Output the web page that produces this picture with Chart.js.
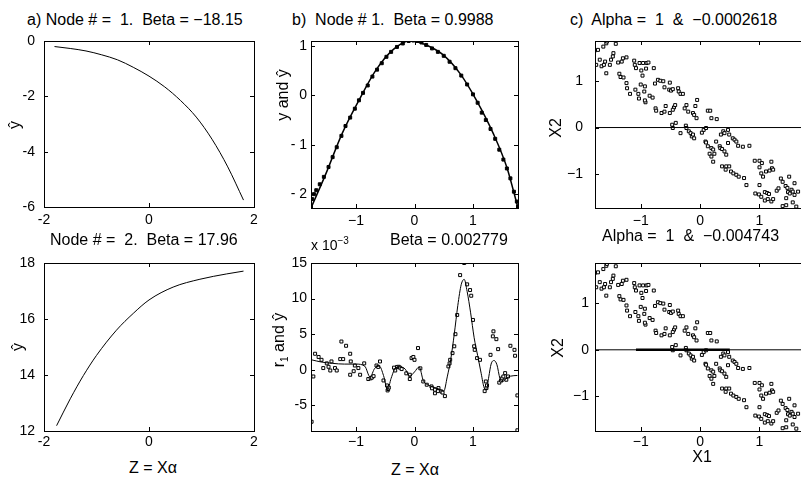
<!DOCTYPE html>
<html>
<head>
<meta charset="utf-8">
<script src="https://cdn.jsdelivr.net/npm/chart.js@4.4.0/dist/chart.umd.min.js"></script>
<style>
    body { margin: 0; background: #fff; width: 801px; height: 484px; overflow: hidden; position: relative;
           font-family: "Liberation Sans", Arial, sans-serif; color: #000; }
    .box { position: absolute; }
    .lbl { position: absolute; white-space: pre; font-size: 16px; line-height: 1; transform: translateY(-50%); }
    .ctr { position: absolute; white-space: pre; font-size: 16px; line-height: 1; transform: translate(-50%, -50%); }
    .rot { position: absolute; white-space: pre; font-size: 16px; line-height: 1; transform: translate(-50%, -50%) rotate(-90deg); }
    sub, sup { font-size: 10px; line-height: 0; }
</style>
</head>
<body>
<div class="box" style="left:4px;top:31px"><canvas id="aTop" width="264" height="204"></canvas></div>
<div class="box" style="left:4px;top:253px"><canvas id="aBot" width="264" height="206"></canvas></div>
<div class="box" style="left:271px;top:31px"><canvas id="bTop" width="261" height="205"></canvas></div>
<div class="box" style="left:271px;top:253px"><canvas id="bBot" width="261" height="206"></canvas></div>
<div class="box" style="left:555px;top:31px"><canvas id="cTop" width="266" height="205"></canvas></div>
<div class="box" style="left:555px;top:253px"><canvas id="cBot" width="266" height="206"></canvas></div>

<div class="lbl" style="left:27px;top:20px">a) Node # =  1.  Beta = −18.15</div>
<div class="lbl" style="left:50px;top:240px">Node # =  2.  Beta = 17.96</div>
<div class="lbl" style="left:292px;top:20px">b)  Node # 1.  Beta = 0.9988</div>
<div class="lbl" style="left:390px;top:240px">Beta = 0.002779</div>
<div class="lbl" style="left:311px;top:245px;font-size:14px">x 10<sup>−3</sup></div>
<div class="lbl" style="left:570px;top:20px">c)  Alpha =  1  &amp;  −0.0002618</div>
<div class="lbl" style="left:602px;top:236px">Alpha =  1  &amp;  −0.004743</div>

<div class="ctr" style="left:153px;top:468px">Z = Xα</div>
<div class="ctr" style="left:415px;top:470px">Z = Xα</div>
<div class="ctr" style="left:702px;top:457px">X1</div>

<div class="rot" style="left:15px;top:125px">ŷ</div>
<div class="rot" style="left:18px;top:347px">ŷ</div>
<div class="rot" style="left:283px;top:95px">y and ŷ</div>
<div class="rot" style="left:279px;top:340px">r<sub>1</sub> and ŷ</div>
<div class="rot" style="left:556px;top:128px">X2</div>
<div class="rot" style="left:558px;top:348px">X2</div>

<script>
// a) node outputs
const aTopZ = [-1.8, -1.5, -1.2, -0.9, -0.6, -0.3, 0, 0.3, 0.6, 0.9, 1.2, 1.5, 1.8];
const aTopYhat = [-0.2, -0.27, -0.36, -0.5, -0.68, -0.95, -1.27, -1.66, -2.15, -2.75, -3.55, -4.55, -5.75];
const aBotZ = [-1.76, -1.5, -1.25, -1.0, -0.62, -0.3, 0, 0.46, 0.97, 1.48, 1.8];
const aBotYhat = [12.19, 13.15, 13.98, 14.7, 15.6, 16.2, 16.68, 17.14, 17.42, 17.61, 17.71];

// b) top: fit and data
const bTopZ = [-1.77, -1.52, -1.24, -0.95, -0.66, -0.37, -0.07, 0.2, 0.49, 0.78, 1.06, 1.35, 1.58, 1.77];
const bTopFit = [-2.28, -1.6, -0.78, -0.1, 0.51, 0.92, 1.11, 1.02, 0.82, 0.44, -0.1, -0.78, -1.46, -2.28];
const bTopPtsZ = [-1.77, -1.75, -1.72, -1.68, -1.62, -1.55, -1.47, -1.4, -1.33, -1.25, -1.18, -1.1, -1.02, -0.95,
    -0.88, -0.8, -0.72, -0.64, -0.56, -0.48, -0.4, -0.3, -0.2, -0.1, -0.02, 0.05, 0.12, 0.2, 0.3, 0.4, 0.5, 0.6,
    0.7, 0.8, 0.9, 1.0, 1.08, 1.15, 1.22, 1.3, 1.38, 1.45, 1.52, 1.58, 1.64, 1.7, 1.75, 1.77];
const bTopPtsY = [-2.25, -2.1, -2.0, -1.92, -1.8, -1.65, -1.45, -1.25, -1.05, -0.82, -0.62, -0.45, -0.27, -0.1,
    0.05, 0.2, 0.38, 0.52, 0.65, 0.78, 0.88, 0.98, 1.05, 1.1, 1.11, 1.1, 1.07, 1.02, 0.95, 0.88, 0.8, 0.68,
    0.55, 0.4, 0.22, 0.02, -0.15, -0.35, -0.5, -0.68, -0.88, -1.1, -1.3, -1.48, -1.68, -1.95, -2.15, -2.25];

// b) bottom: residual fit (x 10^-3) and data
const bBotZ = [-1.76, -1.6, -1.4, -1.2, -1.0, -0.85, -0.76, -0.68, -0.6, -0.53, -0.46, -0.4, -0.32, -0.24, -0.16,
    -0.08, 0.0, 0.08, 0.15, 0.25, 0.35, 0.45, 0.5, 0.56, 0.62, 0.68, 0.74, 0.8, 0.85, 0.9, 0.96, 1.02, 1.08, 1.14,
    1.19, 1.23, 1.27, 1.31, 1.36, 1.41, 1.46, 1.5, 1.56, 1.64, 1.76];
const bBotFit = [1.4, 1.1, 0.9, 0.8, 0.8, 0.5, -1.0, 0.2, 0.5, -0.8, -2.8, -1.2, 0.3, 0.4, 0.1,
    -0.9, -0.3, 0.4, -1.5, -2.2, -2.5, -2.8, -3.0, -1.0, 1.5, 5.0, 9.0, 12.0, 12.7, 11.0, 8.0, 4.5, 2.0, -0.5,
    -2.5, -2.8, -1.0, 0.8, 1.3, 0.7, -1.2, -1.7, -1.3, -0.9, -0.8];
const bBotPtsZ = [-1.76, -1.73, -1.7, -1.64, -1.59, -1.56, -1.5, -1.47, -1.42, -1.44, -1.36, -1.33, -1.27, -1.25,
    -1.17, -1.22, -1.1, -1.09, -1.1, -1.04, -1.02, -0.96, -0.93, -0.86, -0.79, -0.75, -0.73, -0.7, -0.65, -0.62,
    -0.59, -0.53, -0.47, -0.46, -0.45, -0.44, -0.35, -0.33, -0.3, -0.27, -0.25, -0.22, -0.14, -0.08, -0.08, -0.05,
    -0.02, 0.0, 0.06, 0.1, 0.15, 0.21, 0.29, 0.3, 0.35, 0.35, 0.4, 0.41, 0.46, 0.48, 0.52, 0.58, 0.6, 0.61, 0.65,
    0.68, 0.7, 0.73, 0.78, 0.85, 0.9, 0.95, 0.97, 1.0, 1.02, 1.03, 1.07, 1.12, 1.2, 1.22, 1.23, 1.24, 1.3, 1.34,
    1.35, 1.4, 1.43, 1.45, 1.48, 1.5, 1.52, 1.55, 1.57, 1.6, 1.64, 1.71, 1.72, 1.76, 1.76];
const bBotPtsR = [-7.3, -0.94, 2.25, 1.8, 1.4, 0.24, 0.9, 0.42, 1.17, -0.1, 0.24, -0.1, 1.5, 3.97,
    3.37, 1.5, 2.25, 1.17, -0.7, -0.2, 0.6, 0.24, -0.7, 0.9, -1.3, -1.2, -1.1, -0.9, 0.6, 0.4,
    1.17, -1.5, -2.2, -2.9, -2.7, -2.5, 0.3, -0.1, 0.4, 0.42, 0.3, 0.1, -0.5, -1.3, -0.7, 1.64,
    1.8, 1.4, 3.05, 0.2, -1.64, -2.1, -2.34, -2.6, -2.8, -3.3, -3.0, -2.57, -3.05, -3.2, -3.7, 0.47, 0.9, 1.4, 2.34,
    3.3, 5.0, 7.7, 13.3, 15, 12.0, 11.2, 10.4, 7.0, 3.3, 2.8, 1.64, 1.4, -3.0, -1.64, -2.57, -2.2, 2.1, 4.7,
    5.4, 4.3, 2.9, -1.8, -1.5, -1.2, -0.94, -0.47, -1.4, -0.94, 3.37, 2.8, 1.97, -3.6, -8.5];

// c) input space X1, X2
const cX1 = [-1.77, -1.72, -1.75, -1.69, -1.66, -1.62, -1.6, -1.63, -1.58, -1.57, -1.52, -1.5, -1.46, -1.47, -1.42,
    -1.58, -1.38, -1.32, -1.3, -1.36, -1.34, -1.29, -1.24, -1.24, -1.23, -1.18, -1.11, -1.1, -1.08, -1.09, -1.04,
    -1.03, -0.99, -1.02, -0.96, -0.9, -0.91, -0.97, -0.94, -1.0, -0.93, -0.87, -0.92, -0.93, -0.85, -0.8, -0.78,
    -0.76, -0.75, -0.74, -0.71, -0.67, -0.62, -0.65, -0.6, -0.58, -0.6, -0.51, -0.52, -0.51, -0.49, -0.46, -0.44,
    -0.42, -0.46, -0.37, -0.36, -0.33, -0.29, -0.47, -0.46, -0.41, -0.33, -0.26, -0.23, -0.2, -0.24, -0.23, -0.19,
    -0.16, -0.14, -0.12, -0.1, -0.08, -0.05, -0.12, -0.1, -0.06, 0.03, 0.06, 0.1, 0.13, 0.17, 0.19, 0.28, 0.09,
    0.1, 0.13, 0.19, 0.16, 0.19, 0.22, 0.24, 0.22, 0.27, 0.33, 0.34, 0.37, 0.41, 0.44, 0.35, 0.39, 0.41, 0.47,
    0.49, 0.47, 0.55, 0.58, 0.61, 0.64, 0.72, 0.83, 0.37, 0.44, 0.49, 0.43, 0.52, 0.56, 0.61, 0.65, 0.74, 0.78,
    0.92, 1.0, 1.04, 1.0, 1.03, 1.06, 1.11, 1.17, 1.21, 1.2, 1.23, 1.0, 0.93, 0.99, 1.03, 1.09, 1.13, 1.16, 1.09,
    1.14, 1.2, 1.23, 1.29, 1.36, 1.32, 1.39, 1.44, 1.47, 1.48, 1.51, 1.54, 1.56, 1.59, 1.5, 1.45, 1.39, 1.45, 1.56,
    1.59, 1.65, 1.62];
const cX2 = [1.65, 1.66, 1.34, 1.45, 1.31, 1.34, 1.41, 1.73, 1.8, 1.84, 1.34, 1.45, 1.59, 1.52, 1.79,
    1.16, 1.39, 1.41, 1.48, 1.15, 1.08, 1.07, 1.5, 0.95, 0.84, 0.72, 1.43, 1.34, 1.27, 0.81, 0.72,
    0.62, 1.22, 1.38, 1.38, 1.38, 1.26, 1.11, 0.77, 0.92, 0.88, 1.39, 0.54, 0.58, 0.68, 0.64, 1.27,
    0.94, 0.41, 0.36, 1.02, 1.0, 0.99, 0.31, 0.34, 0.46, 0.86, 0.96, 0.81, 0.31, 0.79, 0.82, 0.43,
    0.48, 0.38, 0.84, 0.77, 0.72, 0.72, 0.06, -0.01, 0.1, -0.12, 0.41, 0.48, 0.34, 0.04, -0.01, -0.08,
    -0.12, -0.19, -0.15, -0.23, 0.46, 0.59, 0.31, 0.27, 0.2, -0.11, -0.05, -0.01, 0.36, 0.36, 0.2, 0.18, -0.3,
    -0.32, -0.4, -0.44, -0.56, -0.62, -0.73, -0.56, -0.47, -0.3, -0.4, -0.44, -0.46, -0.51, -0.58, -0.15, -0.08, -0.12, -0.05,
    -0.15, -0.33, -0.23, -0.26, -0.3, -0.39, -0.41, -0.39, -0.83, -0.83, -0.83, -0.9, -0.94, -0.98, -1.01, -1.05, -1.08, -1.23,
    -0.71, -0.71, -0.76, -0.85, -0.98, -1.05, -0.94, -0.92, -0.87, -0.73, -0.9, -1.23, -1.41, -1.43, -1.48, -1.38, -1.4, -1.42, -1.56,
    -1.53, -1.58, -1.53, -1.35, -1.09, -1.3, -1.16, -1.25, -1.29, -1.38, -1.41, -1.33, -1.37, -1.44, -1.05, -1.51, -1.68, -1.66, -1.6,
    -1.19, -1.37, -1.69];
const cLineX1 = [-1.77, 1.8];
const cLineX2 = [0, 0];
const cProjX1 = [-1.08, 0.5];
const cProjX2 = [0, 0];

// tick labels
const aTicksX = [-2, 0, 2];
const aTopTicksY = [-6, -4, -2, 0];
const aBotTicksY = [12, 14, 16, 18];
const bTicksX = [-1, 0, 1];
const bTopTicksY = [-2, -1, 0, 1];
const bBotTicksY = [-5, 0, 5, 10, 15];
const cTicksX = [-1, 0, 1];
const cTicksY = [-1, 0, 1];

const zip = (xs, ys) => xs.map((x, i) => ({ x, y: ys[i] }));
const tickFont = { family: 'Liberation Sans, Arial, sans-serif', size: 14 };

// MATLAB style box with inward ticks on all four sides
const frameTicks = {
    id: 'frameTicks',
    afterDatasetsDraw(chart) {
        const { ctx, chartArea: a } = chart;
        const { x, y } = chart.scales;
        ctx.save();
        ctx.strokeStyle = '#000';
        ctx.lineWidth = 1;
        ctx.strokeRect(Math.round(a.left) + 0.5, Math.round(a.top) + 0.5,
            Math.round(a.right - a.left), Math.round(a.bottom - a.top));
        ctx.beginPath();
        x.ticks.forEach(t => {
            const px = Math.round(x.getPixelForValue(t.value)) + 0.5;
            ctx.moveTo(px, a.bottom); ctx.lineTo(px, a.bottom - 4);
            ctx.moveTo(px, a.top); ctx.lineTo(px, a.top + 4);
        });
        y.ticks.forEach(t => {
            const py = Math.round(y.getPixelForValue(t.value)) + 0.5;
            ctx.moveTo(a.left, py); ctx.lineTo(a.left + 4, py);
            ctx.moveTo(a.right, py); ctx.lineTo(a.right - 4, py);
        });
        ctx.stroke();
        ctx.restore();
    }
};

function lineSet(xs, ys, width) {
    return { data: zip(xs, ys), showLine: true, borderColor: '#000', borderWidth: width,
             pointRadius: 0, cubicInterpolationMode: 'monotone', fill: false };
}

function pointSet(xs, ys, radius, fillColour) {
    return { data: zip(xs, ys), showLine: false, pointStyle: 'rect', pointRadius: radius,
             borderColor: '#000', borderWidth: 1, backgroundColor: fillColour };
}

function makePanel(id, o) {
    return new Chart(document.getElementById(id), {
        type: 'scatter',
        data: { datasets: o.datasets },
        options: {
            responsive: false,
            animation: false,
            layout: { padding: { left: 0, top: 10, right: 14, bottom: 0 } },
            plugins: { legend: { display: false }, tooltip: { enabled: false } },
            scales: {
                x: {
                    type: 'linear', min: o.xMin, max: o.xMax,
                    grid: { display: false, drawTicks: false }, border: { display: false },
                    ticks: { font: tickFont, color: '#000', padding: o.xPad, maxRotation: 0, autoSkip: false,
                             callback: o.xFmt },
                    afterBuildTicks: s => { s.ticks = o.xTicks.map(v => ({ value: v })); },
                    afterFit: s => { s.height = 28; s.paddingLeft = 0; s.paddingRight = 0; }
                },
                y: {
                    type: 'linear', min: o.yMin, max: o.yMax,
                    grid: { display: false, drawTicks: false }, border: { display: false },
                    ticks: { font: tickFont, color: '#000', padding: o.yPad, autoSkip: false,
                             callback: o.yFmt },
                    afterBuildTicks: s => { s.ticks = o.yTicks.map(v => ({ value: v })); },
                    afterFit: s => { s.width = 40; s.paddingTop = 0; s.paddingBottom = 0; }
                }
            }
        },
        plugins: [frameTicks]
    });
}

const hyphen = v => String(v);
const minus = v => (v < 0 ? '\u2212' + Math.abs(v) : String(v));
const spaced = v => (v < 0 ? '- ' + Math.abs(v) : String(v));

makePanel('aTop', {
    datasets: [lineSet(aTopZ, aTopYhat, 1)],
    xMin: -2, xMax: 2, yMin: -6, yMax: 0, xTicks: aTicksX, yTicks: aTopTicksY,
    xFmt: hyphen, yFmt: hyphen, xPad: 5, yPad: 9
});
makePanel('aBot', {
    datasets: [lineSet(aBotZ, aBotYhat, 1)],
    xMin: -2, xMax: 2, yMin: 12, yMax: 18, xTicks: aTicksX, yTicks: aBotTicksY,
    xFmt: hyphen, yFmt: hyphen, xPad: 3, yPad: 9
});
makePanel('bTop', {
    datasets: [lineSet(bTopZ, bTopFit, 1.5), pointSet(bTopPtsZ, bTopPtsY, 2.1, '#000')],
    xMin: -1.77, xMax: 1.77, yMin: -2.28, yMax: 1.1, xTicks: bTicksX, yTicks: bTopTicksY,
    xFmt: minus, yFmt: spaced, xPad: 5, yPad: 4
});
makePanel('bBot', {
    datasets: [lineSet(bBotZ, bBotFit, 1), pointSet(bBotPtsZ, bBotPtsR, 2.1, '#fff')],
    xMin: -1.77, xMax: 1.77, yMin: -8.6, yMax: 15, xTicks: bTicksX, yTicks: bBotTicksY,
    xFmt: minus, yFmt: hyphen, xPad: 3, yPad: 4
});
makePanel('cTop', {
    datasets: [lineSet(cLineX1, cLineX2, 1), pointSet(cX1, cX2, 2.1, '#fff')],
    xMin: -1.77, xMax: 1.8, yMin: -1.72, yMax: 1.85, xTicks: cTicksX, yTicks: cTicksY,
    xFmt: minus, yFmt: minus, xPad: 5, yPad: 12
});
makePanel('cBot', {
    datasets: [lineSet(cLineX1, cLineX2, 1), lineSet(cProjX1, cProjX2, 2.5), pointSet(cX1, cX2, 2.1, '#fff')],
    xMin: -1.77, xMax: 1.8, yMin: -1.74, yMax: 1.86, xTicks: cTicksX, yTicks: cTicksY,
    xFmt: minus, yFmt: minus, xPad: 3, yPad: 6
});
</script>
</body>
</html>
